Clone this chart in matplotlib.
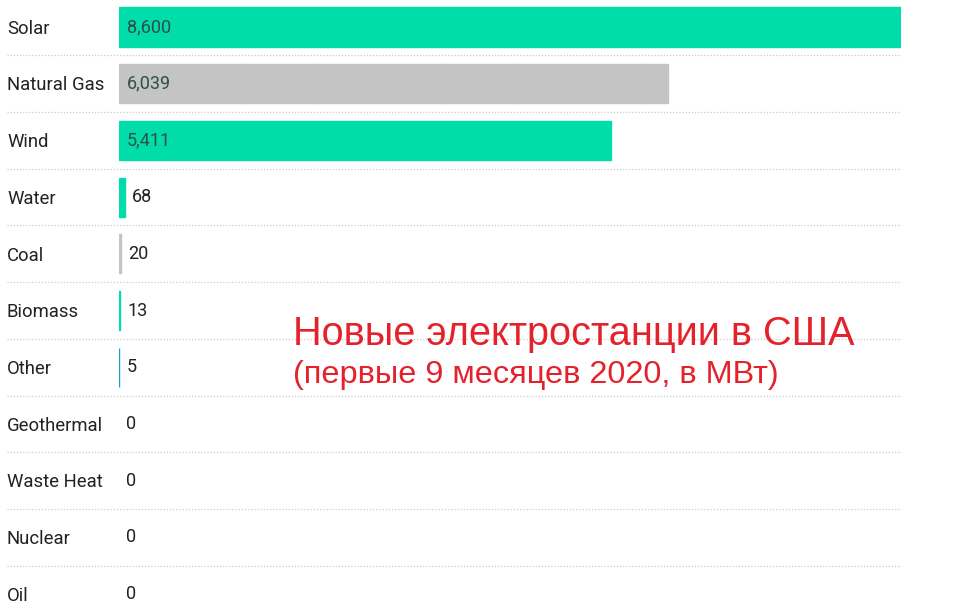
import matplotlib
matplotlib.use('Agg')
import matplotlib.pyplot as plt
import matplotlib.transforms as mtransforms

# data
sources = ['Solar', 'Natural Gas', 'Wind', 'Water', 'Coal', 'Biomass', 'Other',
           'Geothermal', 'Waste Heat', 'Nuclear', 'Oil']
mw = [8600, 6039, 5411, 68, 20, 13, 5, 0, 0, 0, 0]
value_labels = ['8,600', '6,039', '5,411', '68', '20', '13', '5', '0', '0', '0', '0']
bar_colors = ['#00dcaa', '#c4c4c4', '#00dcaa', '#00dcaa', '#c4c4c4', '#00dcaa',
              '#2196d9', '#00dcaa', '#00dcaa', '#00dcaa', '#00dcaa']

title = 'Новые электростанции в США'
subtitle = '(первые 9 месяцев 2020, в МВт)'

W, H = 968, 613
fig = plt.figure(figsize=(W / 100, H / 100), dpi=100)

# axes placed so the bars start at x=119px and Solar (8600) ends at x=901px
left_px, right_px = 119, 901
ax = fig.add_axes([left_px / W, 0, (right_px - left_px) / W, 1])
ax.axis('off')

first_row_px, pitch = 27, 56.7
ax.set_xlim(0, 8600)
ax.set_ylim((H - first_row_px) / pitch, -first_row_px / pitch)

rows = list(range(len(sources)))
edges = [c if v > 0 else 'none' for c, v in zip(bar_colors, mw)]
ax.barh(rows, mw, height=0.69, color=bar_colors, edgecolor=edges, linewidth=1.0)

trans = mtransforms.blended_transform_factory(ax.transAxes, ax.transData)
lab_x = (7 - left_px) / (right_px - left_px)

for i, (name, v, txt) in enumerate(zip(sources, mw, value_labels)):
    ax.text(lab_x, i + 0.03, name, transform=trans, ha='left', va='center',
            fontsize=13.3, family='Roboto', color='#222222')
    if v > 1000:
        ax.annotate(txt, (0, i), xytext=(8, 0), textcoords='offset pixels',
                    ha='left', va='center', fontsize=13, family='Roboto',
                    color='#2f4f47')
    else:
        ax.annotate(txt, (v, i), xytext=(7, 0), textcoords='offset pixels',
                    ha='left', va='center', fontsize=13, family='Roboto',
                    color='#222222')
    if i < len(sources) - 1:
        ax.plot([lab_x, 1], [i + 0.5, i + 0.5], transform=trans, color='#cccccc',
                lw=0.9, ls=(0, (1, 1.5)), clip_on=False)

fig.text(293 / W, 1 - 345 / H, title, ha='left', va='baseline', fontsize=28.6,
         family='Liberation Sans', color='#e4222b')
fig.text(293 / W, 1 - 383 / H, subtitle, ha='left', va='baseline', fontsize=23.4,
         family='Liberation Sans', color='#e4222b')

fig.savefig('out.png', dpi=100)
